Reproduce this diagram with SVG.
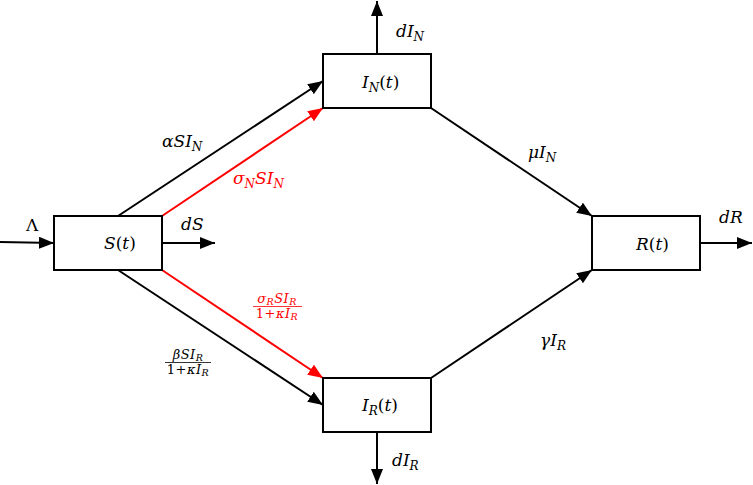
<svg xmlns="http://www.w3.org/2000/svg" width="753" height="485" viewBox="0 0 753 485">
<style>
.box{fill:#fff;stroke:#000;stroke-width:2}
.c{fill:none;stroke-width:2}
.k{stroke:#000}
.r{stroke:#f00}
text{font-family:"DejaVu Serif","Liberation Serif",serif;font-size:17px}
.i{font-style:italic}
.sub{font-size:12px;font-style:italic}
.fr{font-size:13px;letter-spacing:0.5px}
.fs{font-size:9.5px;font-style:italic}
.red{fill:#f00}
</style>
<defs>
<marker id="ak" markerUnits="userSpaceOnUse" markerWidth="16" markerHeight="14" refX="15" refY="6" orient="auto">
<path d="M0,0 L15,6 L0,12 z" fill="#000"/>
</marker>
<marker id="ar" markerUnits="userSpaceOnUse" markerWidth="16" markerHeight="14" refX="15" refY="6" orient="auto">
<path d="M0,0 L15,6 L0,12 z" fill="#f00"/>
</marker>
</defs>
<g id="connectors">
<line class="c k" x1="0" y1="242" x2="54" y2="243" marker-end="url(#ak)"/>
<line class="c k" x1="162" y1="243" x2="215" y2="243" marker-end="url(#ak)"/>
<line class="c k" x1="118" y1="216" x2="323" y2="81" marker-end="url(#ak)"/>
<line class="c r" x1="162" y1="216" x2="323" y2="108" marker-end="url(#ar)"/>
<line class="c r" x1="162" y1="270" x2="323" y2="378" marker-end="url(#ar)"/>
<line class="c k" x1="118" y1="270" x2="323" y2="405" marker-end="url(#ak)"/>
<line class="c k" x1="431" y1="108" x2="592" y2="216" marker-end="url(#ak)"/>
<line class="c k" x1="431" y1="378" x2="592" y2="270" marker-end="url(#ak)"/>
<line class="c k" x1="377" y1="54" x2="377" y2="1" marker-end="url(#ak)"/>
<line class="c k" x1="377" y1="432" x2="377" y2="484" marker-end="url(#ak)"/>
<line class="c k" x1="700" y1="243" x2="752" y2="243" marker-end="url(#ak)"/>
</g>
<g id="S">
<rect class="box" x="54" y="216" width="108" height="54"/>
<text x="104" y="249"><tspan class="i">S</tspan>(<tspan class="i">t</tspan>)</text>
</g>
<g id="IN">
<rect class="box" x="323" y="54" width="108" height="54"/>
<text x="362" y="88"><tspan class="i">I</tspan><tspan class="sub" dy="4">N</tspan><tspan dy="-4">(</tspan><tspan class="i">t</tspan>)</text>
</g>
<g id="IR">
<rect class="box" x="323" y="378" width="108" height="54"/>
<text x="362" y="411"><tspan class="i">I</tspan><tspan class="sub" dy="4">R</tspan><tspan dy="-4">(</tspan><tspan class="i">t</tspan>)</text>
</g>
<g id="R">
<rect class="box" x="592" y="216" width="108" height="54"/>
<text x="636" y="250"><tspan class="i">R</tspan>(<tspan class="i">t</tspan>)</text>
</g>
<g id="labels">
<text x="26" y="231">Λ</text>
<text x="181" y="230" class="i">dS</text>
<text x="396" y="37" class="i">dI<tspan class="sub" dy="4">N</tspan></text>
<text x="392" y="466" class="i">dI<tspan class="sub" dy="4">R</tspan></text>
<text x="719" y="223" class="i">dR</text>
<text x="162" y="147" class="i">αSI<tspan class="sub" dy="4">N</tspan></text>
<text x="233" y="184" class="i red">σ<tspan class="sub" dy="4">N</tspan><tspan dy="-4">SI</tspan><tspan class="sub" dy="4">N</tspan></text>
<text x="528" y="158" class="i">μI<tspan class="sub" dy="4">N</tspan></text>
<text x="540" y="346" class="i">γI<tspan class="sub" dy="4">R</tspan></text>
<text x="277" y="303" text-anchor="middle" class="fr red"><tspan class="i">σ</tspan><tspan class="fs" dy="2">R</tspan><tspan class="i" dy="-2">SI</tspan><tspan class="fs" dy="2">R</tspan></text>
<line x1="253" y1="306.5" x2="302" y2="306.5" stroke="#f00" stroke-width="0.8"/>
<text x="277" y="318" text-anchor="middle" class="fr red">1+<tspan class="i">κI</tspan><tspan class="fs" dy="2">R</tspan></text>
<text x="188" y="359" text-anchor="middle" class="fr"><tspan class="i">βSI</tspan><tspan class="fs" dy="2">R</tspan></text>
<line x1="165" y1="362.5" x2="211" y2="362.5" stroke="#000" stroke-width="0.8"/>
<text x="188" y="374" text-anchor="middle" class="fr">1+<tspan class="i">κI</tspan><tspan class="fs" dy="2">R</tspan></text>
</g>
</svg>
